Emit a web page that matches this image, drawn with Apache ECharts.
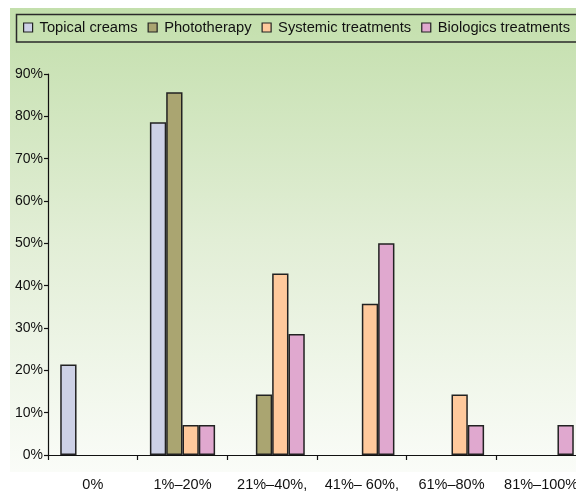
<!DOCTYPE html>
<html><head><meta charset="utf-8">
<script src="https://cdn.jsdelivr.net/npm/echarts@6/dist/echarts.min.js"></script>
<style>html,body{margin:0;padding:0;background:#fff}#c{width:576px;height:492px}</style>
</head><body><div id="c"></div>
<script>
const categories = ['0%', '1%–20%', '21%–40%,', '41%– 60%,', '61%–80%', '81%–100%'];
const seriesNames = ['Topical creams', 'Phototherapy', 'Systemic treatments', 'Biologics treatments'];
const topical = [21.4, 78.6, 0, 0, 0, 0];
const phototherapy = [0, 85.7, 14.3, 0, 0, 0];
const systemic = [0, 7.1, 42.9, 35.7, 14.3, 0];
const biologics = [0, 7.1, 28.6, 50, 7.1, 7.1];
const colors = ['#cdd1e6', '#aaa571', '#ffc99c', '#e0a8cf'];
const values = [topical, phototherapy, systemic, biologics];

const chart = echarts.init(document.getElementById('c'), null, {renderer: 'canvas'});
const font = '"Liberation Sans", Arial, Helvetica, sans-serif';
chart.setOption({
  animation: false,
  graphic: [
    {type: 'rect', z: -10, silent: true, shape: {x: 10, y: 8, width: 570, height: 464},
     style: {fill: new echarts.graphic.LinearGradient(0, 0, 0, 1, [
       {offset: 0, color: '#c3dfac'}, {offset: 0.5, color: '#e2eed6'}, {offset: 1, color: '#fafcf8'}])}},
    {type: 'rect', z: 1, silent: true, shape: {x: 16.5, y: 14.5, width: 600, height: 27.5},
     style: {fill: 'none', stroke: '#2a2a2a', lineWidth: 1.5}}
  ],
  legend: {
    left: 23, top: 20, padding: 0, itemWidth: 9, itemHeight: 9, itemGap: 10,
    icon: 'rect',
    textStyle: {fontFamily: font, fontSize: 14.7, color: '#111', padding: [0, 0, 0, 2]},
    data: seriesNames.map((n, i) => ({name: n, itemStyle: {color: colors[i], borderColor: '#222', borderWidth: 1.2}}))
  },
  grid: {left: 48, width: 538, top: 74, bottom: 37, containLabel: false, outerBoundsMode: 'none'},
  xAxis: {
    type: 'category', data: categories,
    axisLine: {lineStyle: {color: '#111', width: 1.2}},
    axisTick: {show: true, length: 5, lineStyle: {color: '#111', width: 1.2}},
    axisLabel: {fontFamily: font, fontSize: 14.5, color: '#111', margin: 22, interval: 0}
  },
  yAxis: {
    type: 'value', min: 0, max: 90, interval: 10,
    axisLine: {show: true, lineStyle: {color: '#111', width: 1.2}},
    axisTick: {show: true, length: 4, lineStyle: {color: '#111', width: 1.2}},
    splitLine: {show: false},
    axisLabel: {fontFamily: font, fontSize: 14, color: '#111', margin: 5, formatter: '{value}%'}
  },
  series: values.map((v, i) => ({
    name: seriesNames[i], type: 'bar', data: v.map(x => x === 0 ? null : x),
    barWidth: 16.3, barGap: '0%',
    itemStyle: {color: colors[i], borderColor: '#222', borderWidth: 1.5}
  }))
});
</script></body></html>
